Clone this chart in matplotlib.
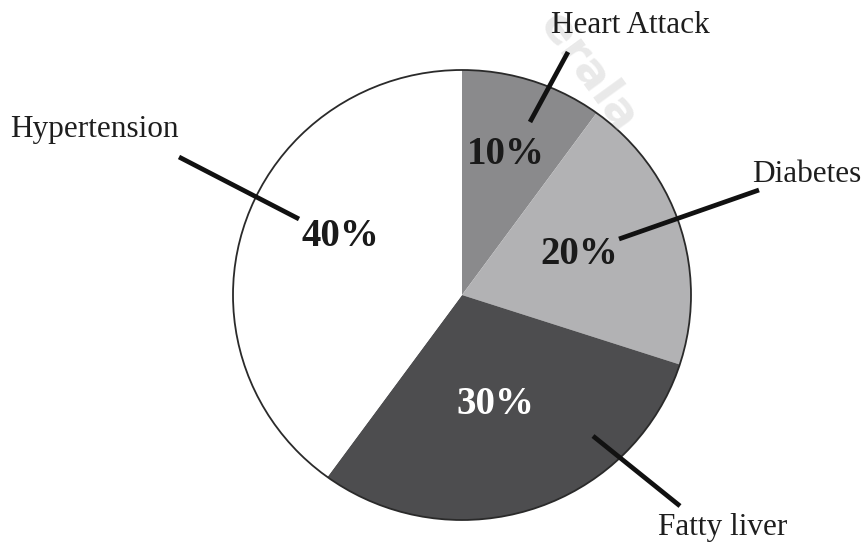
import matplotlib
matplotlib.use("Agg")
import matplotlib.pyplot as plt
from matplotlib.patches import Circle

# Share of lifestyle diseases (percent)
diseases = ["Heart Attack", "Diabetes", "Fatty liver", "Hypertension"]
shares = [10, 20, 30, 40]
slice_colors = ["#8a8a8c", "#b2b2b4", "#4d4d4f", "#ffffff"]
pct_colors = ["#1a1a1a", "#1a1a1a", "#ffffff", "#1a1a1a"]

W, H = 866, 542
fig = plt.figure(figsize=(W / 100, H / 100), dpi=100)
fig.patch.set_facecolor("white")

# pie occupies an (almost circular) box in pixel space
cx, cy, rx, ry = 462, 295, 229, 225
ax = fig.add_axes([0, 0, 1, 1])
ax.pie(shares, colors=slice_colors, startangle=90, counterclock=False,
       radius=1, wedgeprops=dict(linewidth=0))
ax.add_patch(Circle((0, 0), 1, fill=False, edgecolor="#2a2a2a", linewidth=1.3, zorder=5))
ax.set_xlim(-1.01, 1.01)
ax.set_ylim(-1.01, 1.01)
ax.set_aspect("auto")
ax.set_position([(cx - rx * 1.01) / W, (H - cy - ry * 1.01) / H,
                 2 * rx * 1.01 / W, 2 * ry * 1.01 / H])
ax.axis("off")

# overlay in pixel coordinates for labels and leader lines
ov = fig.add_axes([0, 0, 1, 1], zorder=10)
ov.set_xlim(0, W)
ov.set_ylim(H, 0)
ov.axis("off")
ov.patch.set_alpha(0)

# layout: percentage text centres, name label anchors, leader lines
pct_pos = [(506, 155), (579, 255), (495, 404), (340, 236)]
name_pos = [(630, 33, "center"), (752, 182, "left"), (658, 535, "left"), (10, 137, "left")]
leaders = [((530, 122), (568, 52)),
           ((619, 239), (759, 190)),
           ((593, 436), (680, 506)),
           ((299, 219), (179, 157))]

serif = ["Liberation Serif", "DejaVu Serif"]
for share, name, pc, (px, py), (nx, ny, ha), ((x0, y0), (x1, y1)) in zip(
        shares, diseases, pct_colors, pct_pos, name_pos, leaders):
    ov.plot([x0, x1], [y0, y1], color="#111111", linewidth=3.4,
            solid_capstyle="butt")
    ov.text(px, py, f"{share}%", ha="center", va="center", fontsize=28,
            fontweight="bold", color=pc, family=serif)
    ov.text(nx, ny, name, ha=ha, va="baseline", fontsize=22.5,
            color="#1e1e1e", family=serif)

# faint publisher watermark
ov.text(588, 72, "erala", rotation=-54, rotation_mode="anchor",
        ha="center", va="center", fontsize=34, fontweight="bold",
        color="#b8b8b8", alpha=0.3, family="DejaVu Sans", zorder=0)

fig.savefig("out.png", dpi=100)
